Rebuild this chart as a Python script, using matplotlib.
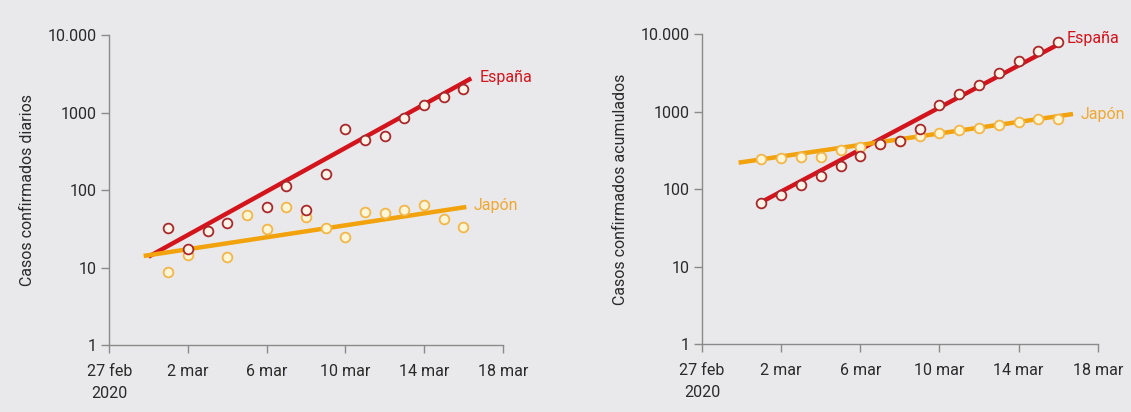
import numpy as np
import matplotlib.pyplot as plt

# dias contados desde el 27 feb 2020 (2020 es bisiesto: 2 mar = dia 4)
tick_dias = [0, 4, 8, 12, 16, 20]
tick_fechas = ['27 feb\n2020', '2 mar', '6 mar', '10 mar', '14 mar', '18 mar']
y_ticks = [1, 10, 100, 1000, 10000]
y_labels = ['1', '10', '100', '1000', '10.000']

# casos diarios
esp_diario_dias = [3, 4, 5, 6, 8, 9, 10, 11, 12, 13, 14, 15, 16, 17, 18]
esp_diario = [32, 17.5, 30, 37, 60, 114, 56, 161, 612, 437, 502, 857, 1262, 1570, 1990]
jap_diario_dias = [3, 4, 6, 7, 8, 9, 10, 11, 12, 13, 14, 15, 16, 17, 18]
jap_diario = [8.8, 14.5, 13.5, 47.6, 31, 59.7, 45.3, 32, 24.8, 52, 50, 56, 64, 42.3, 33]

# casos acumulados
esp_acum_dias = list(range(3, 19))
esp_acum = [67, 83, 112, 149, 198, 266, 380, 425, 600, 1235, 1710, 2195, 3180, 4480, 6030, 8040]
jap_acum_dias = list(range(3, 19))
jap_acum = [244, 256, 257, 258, 316, 348, 385, 420, 482, 532, 576, 617, 670, 737, 806, 810]

# rectas de ajuste (extremos)
esp_diario_fit_x = [2.0, 18.4]
esp_diario_fit_y = [13.8, 2760]
jap_diario_fit_x = [1.75, 18.15]
jap_diario_fit_y = [14.1, 60.4]
esp_acum_fit_x = [2.8, 18.0]
esp_acum_fit_y = [64, 7400]
jap_acum_fit_x = [1.85, 18.75]
jap_acum_fit_y = [220, 935]

ROJO = '#d3141c'
NARANJA = '#f2a20c'
FONDO = '#e9e9eb'
FUENTE = ['Roboto', 'DejaVu Sans']

plt.rcParams['font.family'] = FUENTE

fig = plt.figure(figsize=(11.31, 4.12), dpi=100, facecolor=FONDO)
ax1 = fig.add_axes([0.0966, 0.1626, 0.3479, 0.7524])
ax2 = fig.add_axes([0.6207, 0.165, 0.3499, 0.7517])


def dibujar(ax, esp_x, esp_y, jap_x, jap_y, efx, efy, jfx, jfy, ylabel, esp_pos, jap_pos):
    ax.set_facecolor(FONDO)
    ax.plot(efx, efy, color=ROJO, lw=3.2, solid_capstyle='butt', zorder=2)
    ax.plot(jfx, jfy, color=NARANJA, lw=3.2, solid_capstyle='butt', zorder=3)
    ax.plot(esp_x, esp_y, 'o', ms=7, mfc='#fdf3e6', mec='#a8282c', mew=1.3, zorder=5)
    ax.plot(jap_x, jap_y, 'o', ms=7, mfc='#fff6d8', mec='#f2b64a', mew=1.3, zorder=4)
    ax.text(esp_pos[0], esp_pos[1], 'España', color=ROJO, fontsize=11.5,
            ha='left', va='center')
    ax.text(jap_pos[0], jap_pos[1], 'Japón', color='#f0a830', fontsize=11.5,
            ha='left', va='center')

    ax.set_yscale('log')
    ax.set_ylim(1, 10000)
    ax.set_xlim(0, 20)
    ax.set_yticks(y_ticks)
    ax.set_yticklabels(y_labels)
    ax.minorticks_off()
    ax.set_xticks(tick_dias)
    ax.set_xticklabels(tick_fechas, linespacing=1.55)
    for s in ['top', 'right']:
        ax.spines[s].set_visible(False)
    for s in ['left', 'bottom']:
        ax.spines[s].set_color('#8a8a8a')
        ax.spines[s].set_linewidth(1.0)
    ax.tick_params(colors='#8a8a8a', labelcolor='#2a2a2a', labelsize=11.5,
                   length=6, width=1.0)
    ax.tick_params(axis='x', pad=8)
    ax.tick_params(axis='y', pad=3)
    ax.set_ylabel(ylabel, fontsize=11.5, color='#2a2a2a', labelpad=9)


dibujar(ax1, esp_diario_dias, esp_diario, jap_diario_dias, jap_diario,
        esp_diario_fit_x, esp_diario_fit_y, jap_diario_fit_x, jap_diario_fit_y,
        'Casos confirmados diarios', (18.85, 2850), (18.5, 64))
dibujar(ax2, esp_acum_dias, esp_acum, jap_acum_dias, jap_acum,
        esp_acum_fit_x, esp_acum_fit_y, jap_acum_fit_x, jap_acum_fit_y,
        'Casos confirmados acumulados', (18.45, 8800), (19.15, 930))

fig.savefig('out.png', dpi=100, facecolor=FONDO)
